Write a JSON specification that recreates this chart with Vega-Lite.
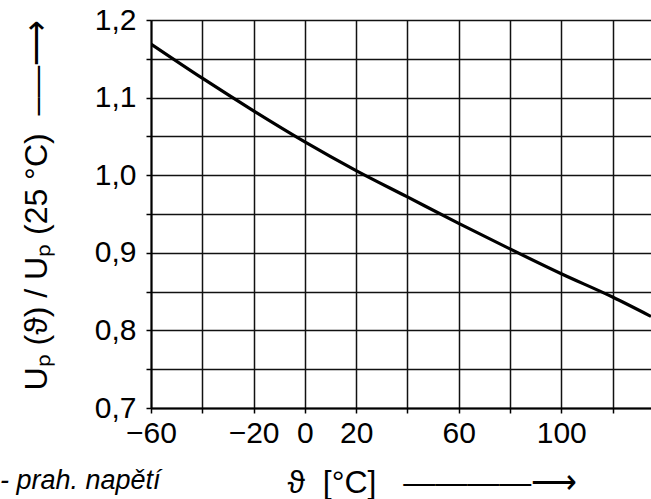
{
  "$schema": "https://vega.github.io/schema/vega-lite/v6.json",
  "width": 500,
  "height": 388,
  "autosize": "none",
  "padding": {"left": 151, "top": 20, "right": 0, "bottom": 91},
  "background": "white",
  "data": {"values": [
    {"t": -60, "u": 1.169},
    {"t": -40, "u": 1.125},
    {"t": -20, "u": 1.083},
    {"t": 0, "u": 1.043},
    {"t": 20, "u": 1.006},
    {"t": 40, "u": 0.972},
    {"t": 60, "u": 0.938},
    {"t": 80, "u": 0.905},
    {"t": 100, "u": 0.873},
    {"t": 120, "u": 0.843},
    {"t": 135, "u": 0.818}
  ]},
  "mark": {"type": "line", "color": "black", "strokeWidth": 3.2, "clip": true, "interpolate": "monotone"},
  "encoding": {
    "x": {
      "field": "t", "type": "quantitative",
      "scale": {"domain": [-60, 135], "nice": false, "zero": false},
      "axis": {
        "values": [-60, -40, -20, 0, 20, 40, 60, 80, 100, 120],
        "labelExpr": "indexof([-40, 40, 80, 120], datum.value) >= 0 ? '' : format(datum.value, 'd')",
        "title": "ϑ\u00a0\u00a0[°C]\u00a0\u00a0\u00a0————⟶",
        "titleX": 136,
        "titleY": 84,
        "titleAlign": "left",
        "titleBaseline": "alphabetic",
        "titleFontSize": 32,
        "labelPadding": 5,
        "labelFlush": false
      }
    },
    "y": {
      "field": "u", "type": "quantitative",
      "scale": {"domain": [0.7, 1.2], "nice": false, "zero": false},
      "axis": {
        "values": [0.7, 0.75, 0.8, 0.85, 0.9, 0.95, 1.0, 1.05, 1.1, 1.15, 1.2],
        "labelExpr": "round(datum.value * 100) % 10 == 0 ? replace(format(datum.value, '.1f'), '.', ',') : ''",
        "title": "Uₚ (ϑ) / Uₚ (25 °C)\u00a0\u00a0–—⟶",
        "titleX": -115,
        "titleY": 370,
        "titleAngle": -90,
        "titleAlign": "left",
        "titleBaseline": "middle",
        "titleFontSize": 32,
        "labelPadding": 10,
        "labelFlush": false
      }
    }
  },
  "title": {
    "text": "- prah. napětí",
    "orient": "bottom",
    "anchor": "start",
    "frame": "group",
    "dx": -151,
    "offset": -30,
    "font": "Liberation Sans",
    "fontSize": 27,
    "fontStyle": "italic",
    "fontWeight": "normal",
    "color": "black"
  },
  "config": {
    "view": {"stroke": null},
    "axis": {
      "grid": true,
      "gridColor": "#111111",
      "gridWidth": 1.5,
      "gridOpacity": 1,
      "domainColor": "black",
      "domainWidth": 2,
      "tickColor": "black",
      "tickWidth": 1.5,
      "tickSize": 5,
      "labelFont": "Liberation Sans",
      "labelFontSize": 30,
      "labelColor": "black",
      "titleFont": "Liberation Sans",
      "titleFontWeight": "normal",
      "titleColor": "black"
    }
  }
}
